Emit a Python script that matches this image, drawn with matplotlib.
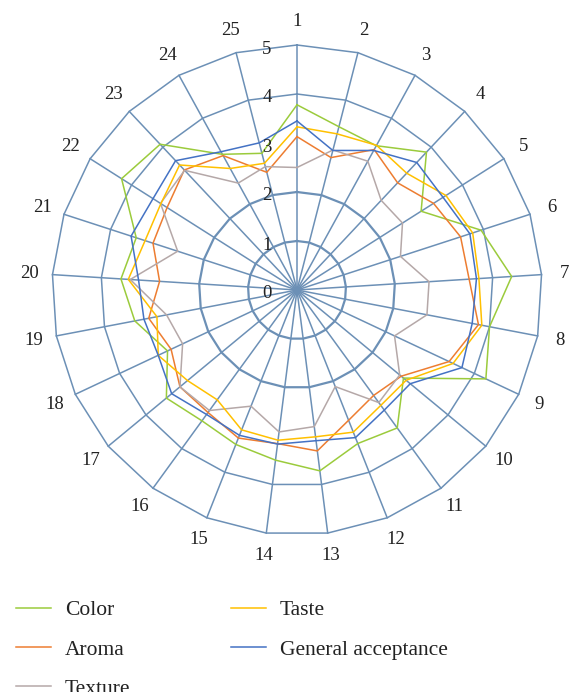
import numpy as np
import matplotlib
matplotlib.use("Agg")
import matplotlib.pyplot as plt

plt.rcParams['font.family'] = ['Liberation Serif', 'DejaVu Serif']

categories = [str(i) for i in range(1, 26)]
series_names = ["Color", "Aroma", "Texture", "Taste", "General acceptance"]

color_vals = [3.78, 3.44, 3.36, 3.86, 3.00, 3.95, 4.39, 4.00, 4.26, 2.82,
              3.48, 3.37, 3.72, 3.50, 3.39, 3.30, 3.46, 2.92, 3.37, 3.60,
              3.45, 4.24, 4.08, 3.16, 2.88]
aroma_vals = [3.13, 2.79, 3.27, 3.00, 3.30, 3.51, 3.52, 3.77, 3.43, 2.76,
              2.66, 2.86, 3.31, 3.16, 3.25, 3.09, 3.10, 2.84, 3.08, 2.81,
              3.09, 3.14, 3.36, 3.13, 2.48]
texture_vals = [2.50, 2.95, 3.00, 2.51, 2.55, 2.22, 2.70, 2.70, 2.20, 2.72,
                2.84, 2.12, 2.81, 2.92, 2.55, 3.04, 3.10, 2.58, 2.71, 3.41,
                2.56, 3.30, 3.35, 2.49, 2.60]
taste_vals = [3.33, 3.29, 3.37, 3.27, 3.60, 3.77, 3.72, 3.84, 3.52, 2.89,
              2.91, 3.12, 3.02, 3.09, 3.07, 2.77, 2.90, 3.13, 2.91, 3.45,
              3.26, 3.29, 3.50, 2.83, 2.67]
ga_vals = [3.45, 2.94, 3.25, 3.57, 3.53, 3.71, 3.67, 3.64, 3.72, 3.00,
           3.03, 3.24, 3.10, 3.17, 3.19, 3.14, 3.32, 3.13, 3.18, 3.24,
           3.56, 3.48, 3.62, 3.22, 3.10]

ring_levels = [1, 2, 4, 5]
radial_labels = ["0", "1", "2", "3", "4", "5"]

series_colors = ["#9BCB3C", "#ED7D31", "#B5A8A8", "#FFC000", "#4472C4"]
grid_color = "#6C90B6"

W, H = 572, 692
fig = plt.figure(figsize=(W / 100, H / 100), dpi=100)
cx, cy, R = 297, 290, 245
ax = fig.add_axes([(cx - R) / W, (H - cy - R) / H, 2 * R / W, 2 * R / H],
                  projection='polar')
ax.set_theta_zero_location('N')
ax.set_theta_direction(-1)
ax.set_ylim(0, 5)
ax.grid(False)
ax.set_xticks([])
ax.set_yticks([])
ax.spines['polar'].set_visible(False)
ax.patch.set_alpha(0)

n = len(categories)
theta = np.arange(n) * 2 * np.pi / n
theta_closed = np.append(theta, theta[0])

# rings (polygons)
for lvl in ring_levels:
    lw = 1.6 if lvl <= 2 else 1.1
    ax.plot(theta_closed, [lvl] * (n + 1), color=grid_color, lw=lw,
            clip_on=False, zorder=1)
# spokes
for t in theta:
    ax.plot([t, t], [0, 5], color=grid_color, lw=1.1, clip_on=False, zorder=1)

# series
all_vals = [color_vals, aroma_vals, texture_vals, taste_vals, ga_vals]
handles = []
for name, vals, c in zip(series_names, all_vals, series_colors):
    v = np.append(vals, vals[0])
    h, = ax.plot(theta_closed, v, color=c, lw=1.1, zorder=3, label=name,
                 clip_on=False)
    handles.append(h)

# category labels
for t, lab in zip(theta, categories):
    ax.text(t, 5.47, lab, ha='center', va='center', fontsize=13.5,
            color='#222222')

# radial labels
for i, lab in enumerate(radial_labels):
    ax.annotate(lab, xy=(0, i), xytext=(-30, -4), textcoords='offset pixels',
                ha='center', va='center', fontsize=13.5, color='#222222',
                annotation_clip=False)

leg = fig.legend(handles=handles, labels=series_names, ncol=2,
                 loc='upper left', bbox_to_anchor=(16 / W, 1 - 600 / H),
                 frameon=False, fontsize=15.5, handlelength=1.63,
                 handletextpad=0.65, labelspacing=0.9, columnspacing=4.65,
                 borderaxespad=0, borderpad=0)
for t in leg.get_texts():
    t.set_color('#222222')

fig.savefig("out.png", dpi=100)
